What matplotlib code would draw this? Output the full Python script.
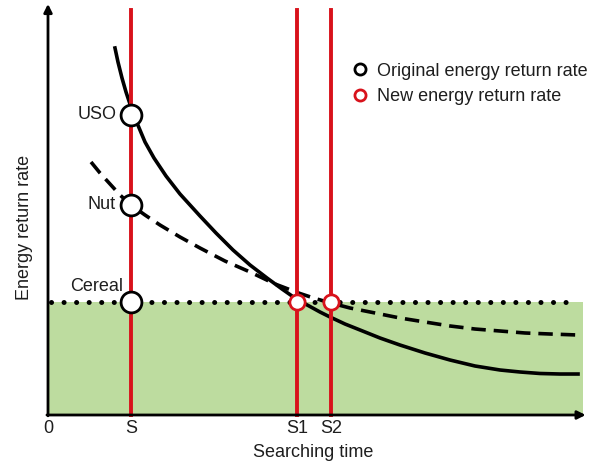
import matplotlib
matplotlib.use("Agg")
import matplotlib.pyplot as plt
from matplotlib.lines import Line2D

plt.rcParams['font.family'] = ['Liberation Sans', 'DejaVu Sans']

# ---- data (arbitrary units) ----
uso_x = [1.252, 1.308, 1.383, 1.458, 1.551, 1.664, 1.813, 1.981, 2.206, 2.467, 2.841, 3.140,
         3.458, 3.776, 4.093, 4.374, 4.654, 4.897, 5.084, 5.271, 5.551, 5.832, 6.206,
         6.579, 7.047, 7.514, 7.981, 8.449, 8.822, 9.196, 9.570, 9.907]
uso_y = [9.062, 8.716, 8.321, 7.975, 7.605, 7.210, 6.741, 6.346, 5.901, 5.457, 4.914, 4.494,
         4.074, 3.704, 3.383, 3.111, 2.852, 2.679, 2.543, 2.420, 2.247, 2.099, 1.901,
         1.728, 1.531, 1.358, 1.210, 1.111, 1.062, 1.025, 1.012, 1.012]
nut_x = [0.804, 0.972, 1.159, 1.346, 1.551, 1.813, 2.093, 2.467, 2.841, 3.308, 3.776, 4.243,
         4.710, 4.991, 5.290, 5.645, 6.112, 6.579, 7.047, 7.514, 7.981, 8.449, 8.916, 9.383, 9.907]
nut_y = [6.247, 5.975, 5.704, 5.432, 5.185, 4.938, 4.691, 4.395, 4.123, 3.802, 3.531, 3.235,
         3.000, 2.877, 2.765, 2.642, 2.519, 2.395, 2.296, 2.198, 2.123, 2.074, 2.025, 2.000, 1.975]
cereal_level = 2.79
cereal_xmax = 9.91

s_names = ["S", "S1", "S2"]
s_values = [1.55, 4.65, 5.29]

orig_points_x = [1.55, 1.55, 1.55]
orig_points_y = [7.41, 5.19, 2.79]
orig_labels = ["USO", "Nut", "Cereal"]
new_points_x = [4.65, 5.29]
new_points_y = [2.79, 2.79]

red = '#d8121b'
green = '#bddc9f'
txt = '#1e1e1e'

fig = plt.figure(figsize=(6.04, 4.63), dpi=100)
ax = fig.add_axes([48/604, (463-415)/463, 535/604, 405/463])
ax.set_xlim(0, 10)
ax.set_ylim(0, 10)
ax.axis('off')

# green region
ax.fill_between([0, 10], 0, cereal_level, color=green, lw=0, zorder=1)

# cereal dotted line
ax.plot([0.05, cereal_xmax], [cereal_level, cereal_level], color='black',
        lw=3.6, linestyle=(0, (0.01, 2.5)), dash_capstyle='round', zorder=3)

# curves
ax.plot(nut_x, nut_y, color='black', lw=2.6, linestyle=(0, (4, 2.2)), zorder=3)
ax.plot(uso_x, uso_y, color='black', lw=2.6, zorder=3, solid_joinstyle='round')

# red vertical lines
for s in s_values:
    ax.plot([s, s], [0, 10.0], color=red, lw=2.8, zorder=4, clip_on=False)

# axes arrows
ax.annotate('', xy=(0, 10.15), xytext=(0, -0.02),
            arrowprops=dict(arrowstyle='-|>', lw=2, color='black', mutation_scale=12,
                            shrinkA=0, shrinkB=0), annotation_clip=False, zorder=5)
ax.annotate('', xy=(10.05, 0), xytext=(-0.02, 0),
            arrowprops=dict(arrowstyle='-|>', lw=2, color='black', mutation_scale=12,
                            shrinkA=0, shrinkB=0), annotation_clip=False, zorder=5)

# points
ax.plot(orig_points_x, orig_points_y, 'o', ms=15, mfc='white', mec='black', mew=2, zorder=6)
ax.plot(new_points_x, new_points_y, 'o', ms=11, mfc='white', mec=red, mew=2, zorder=6)

fs = 13
ax.text(orig_points_x[0] - 0.26, orig_points_y[0], orig_labels[0], ha='right', va='center', fontsize=fs, color=txt)
ax.text(orig_points_x[1] - 0.28, orig_points_y[1], orig_labels[1], ha='right', va='center', fontsize=fs, color=txt)
ax.text(0.90, cereal_level + 0.38, orig_labels[2], ha='center', va='center', fontsize=fs, color=txt)

# tick labels
ax.text(0, -0.33, "0", ha='center', va='center', fontsize=fs, color=txt)
for name, s in zip(s_names, s_values):
    ax.text(s, -0.33, name, ha='center', va='center', fontsize=fs, color=txt)
ax.text(4.95, -0.93, "Searching time", ha='center', va='center', fontsize=fs, color=txt)
ax.text(-0.44, 4.64, "Energy return rate", ha='center', va='center', rotation=90, fontsize=fs, color=txt)

# legend
handles = [Line2D([], [], ls='', marker='o', ms=8, mfc='white', mec='black', mew=2),
           Line2D([], [], ls='', marker='o', ms=8, mfc='white', mec=red, mew=2)]
leg = ax.legend(handles, ["Original energy return rate", "New energy return rate"],
                loc='upper left', bbox_to_anchor=(0.54, 0.91), frameon=False,
                fontsize=fs, handlelength=0.8, handletextpad=0.5, labelspacing=0.45)
for t in leg.get_texts():
    t.set_color(txt)

fig.savefig('out.png', dpi=100, facecolor='white')
